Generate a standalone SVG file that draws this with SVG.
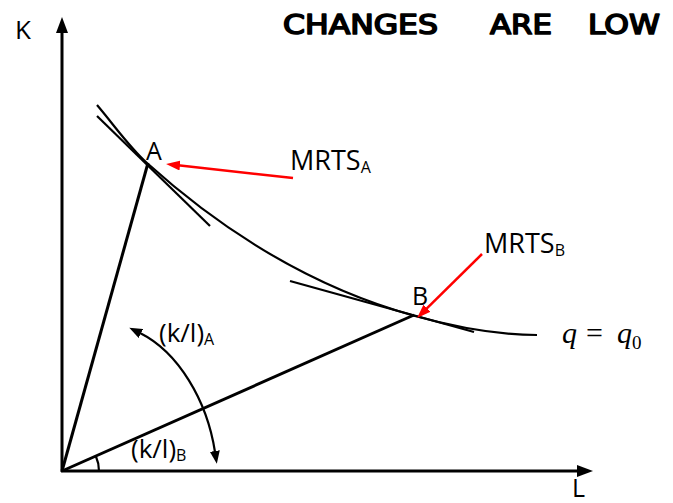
<svg xmlns="http://www.w3.org/2000/svg" width="673" height="503" viewBox="0 0 673 503">
<style>
.lbl{font-family:"Open Sans","Liberation Sans",sans-serif;fill:#000}
.hand{font-family:"DejaVu Sans","Liberation Sans",sans-serif;fill:#000;stroke:#000;stroke-width:1.6;stroke-linejoin:round;font-size:26px}
.ax{stroke:#000;stroke-width:3;fill:none}
.ln{stroke:#000;stroke-width:2.2;fill:none}
.red{stroke:#ff0000;stroke-width:2.5;fill:none}
</style>
<defs>
<marker id="axh" markerUnits="userSpaceOnUse" markerWidth="16" markerHeight="12" refX="2" refY="6" orient="auto"><path d="M0,0 L16,6 L0,12 z" fill="#000"/></marker>
<marker id="rh" markerUnits="userSpaceOnUse" markerWidth="14" markerHeight="10" refX="2" refY="5" orient="auto"><path d="M0,0 L14,5 L0,10 z" fill="#ff0000"/></marker>
<marker id="bh" markerUnits="userSpaceOnUse" markerWidth="13" markerHeight="10" refX="1" refY="5" orient="auto-start-reverse"><path d="M0,0 L13,5 L0,10 z" fill="#000"/></marker>
</defs>
<rect width="673" height="503" fill="#fff"/>
<g id="connectors">
<line id="k-axis" class="ax" x1="62" y1="472" x2="62" y2="31" marker-end="url(#axh)"/>
<line id="l-axis" class="ax" x1="61" y1="471" x2="579" y2="471" marker-end="url(#axh)"/>
<line id="ray-a" class="ax" x1="62" y1="471" x2="148" y2="163"/>
<line id="ray-b" class="ax" x1="62" y1="471" x2="414" y2="315"/>
<path id="isoquant" class="ln" d="M97,105 C114,125 130,148 147,163 C217,226 305,285.5 415,316 C455,327 500,335 537,335"/>
<line id="tangent-a" class="ln" x1="97" y1="116" x2="210" y2="226"/>
<line id="tangent-b" class="ln" x1="290" y1="281" x2="474" y2="332"/>
<line id="arrow-mrts-a" class="red" x1="293" y1="178" x2="178" y2="165.3" marker-end="url(#rh)"/>
<line id="arrow-mrts-b" class="red" x1="482" y1="254" x2="425.6" y2="309.6" marker-end="url(#rh)"/>
<path id="angle-change" class="ln" d="M140,333 C178,352 207,400 215,452" marker-start="url(#bh)" marker-end="url(#bh)"/>
<path id="angle-arc" class="ln" d="M99,471 A37,37 0 0 0 95.8,456"/>
</g>
<g id="label-k"><text class="lbl" x="15" y="39" font-size="26">K</text></g>
<g id="label-l"><text class="lbl" x="572" y="497" font-size="25">L</text></g>
<g id="point-a"><text class="lbl" x="146" y="160" font-size="25">A</text></g>
<g id="point-b"><text class="lbl" x="412" y="305" font-size="25">B</text></g>
<g id="mrts-a"><text class="lbl" x="290" y="170" font-size="27">MRTS<tspan font-size="16" dy="3">A</tspan></text></g>
<g id="mrts-b"><text class="lbl" x="484" y="253" font-size="27">MRTS<tspan font-size="16" dy="3">B</tspan></text></g>
<g id="ratio-a"><text class="lbl" x="159" y="342" font-size="26">(k/l)<tspan font-size="16" dy="3">A</tspan></text></g>
<g id="ratio-b"><text class="lbl" x="131" y="458" font-size="26">(k/l)<tspan font-size="16" dy="3">B</tspan></text></g>
<g id="isoquant-label"><text x="562" y="343" font-family="Liberation Serif,serif" font-size="30"><tspan font-style="italic">q</tspan><tspan x="586">=</tspan><tspan x="617" font-style="italic">q</tspan><tspan x="632" y="349" font-size="19">0</tspan></text></g>
<g id="handwritten-note">
<text class="hand" x="283" y="34" textLength="155" lengthAdjust="spacingAndGlyphs">CHANGES</text>
<text class="hand" x="490" y="34" textLength="62" lengthAdjust="spacingAndGlyphs">ARE</text>
<text class="hand" x="588" y="34" textLength="72" lengthAdjust="spacingAndGlyphs">LOW</text>
</g>
</svg>
